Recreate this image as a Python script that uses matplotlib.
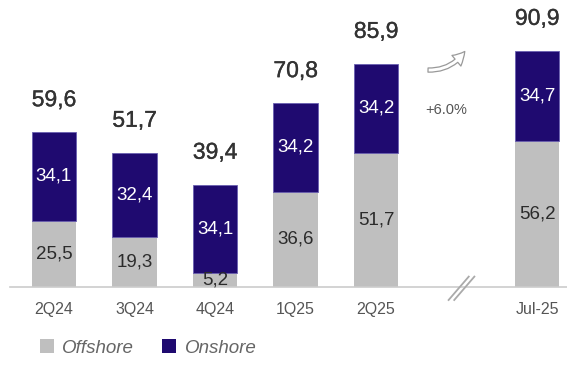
import matplotlib
matplotlib.use("Agg")
import matplotlib.pyplot as plt
import matplotlib.patheffects as pe
from matplotlib.patches import FancyArrowPatch, Patch

# values
periods = ["2Q24", "3Q24", "4Q24", "1Q25", "2Q25", "Jul-25"]
positions = [0, 1, 2, 3, 4, 6]
offshore = [25.5, 19.3, 5.2, 36.6, 51.7, 56.2]
onshore = [34.1, 32.4, 34.1, 34.2, 34.2, 34.7]
totals = [59.6, 51.7, 39.4, 70.8, 85.9, 90.9]
growth_label = "+6.0%"

OFF_COLOR = "#bfbfbf"
ON_COLOR = "#1f0a70"
TEXT_DARK = "#2b2b2b"
TEXT_GREY = "#555555"

plt.rcParams["font.family"] = ["Liberation Sans", "DejaVu Sans"]


def fmt(v):
    return f"{v:.1f}".replace(".", ",")


fig = plt.figure(figsize=(5.67, 3.70), dpi=100, facecolor="white")
ax = fig.add_axes([0, 0.2243, 1, 0.7757])
ax.set_xlim(-0.67, 6.37)
ax.set_ylim(0, 110.4)
for side in ax.spines.values():
    side.set_visible(False)
ax.set_yticks([])

bar_w = 0.55
ax.bar(positions, offshore, width=bar_w, color=OFF_COLOR, zorder=2)
ax.bar(positions, onshore, width=bar_w, bottom=offshore, color=ON_COLOR,
       edgecolor="#6a5fb0", linewidth=0.6, zorder=2)

ax.plot([-0.55, 6.37], [0, 0], color="#cccccc", lw=1.2, zorder=3, clip_on=False)

for x, off, on, tot in zip(positions, offshore, onshore, totals):
    ax.text(x, off / 2, fmt(off), ha="center", va="center",
            fontsize=13.5, color=TEXT_DARK, zorder=4)
    ax.text(x, off + on / 2, fmt(on), ha="center", va="center",
            fontsize=13.5, color="white", zorder=4)
    ax.annotate(fmt(tot), (x, tot), xytext=(0, 15), textcoords="offset points",
                ha="center", va="bottom", fontsize=16.5, color="#333333",
                path_effects=[pe.withStroke(linewidth=0.25, foreground="#333333")])

ax.set_xticks(positions)
ax.set_xticklabels(periods, fontsize=11.5, color=TEXT_GREY)
ax.tick_params(axis="x", length=0, pad=11)

# axis break marks
for dx in (0.0, 0.07):
    ax.plot([4.9 + dx, 5.15 + dx], [-5, 4], color="#aaaaaa", lw=1.3,
            clip_on=False, zorder=4)

# growth arrow and label
ax.add_patch(FancyArrowPatch((4.61, 83.5), (5.12, 91.5), connectionstyle="arc3,rad=0.3",
                             arrowstyle="simple,head_width=10,head_length=9,tail_width=3",
                             facecolor="white", edgecolor="#999999", lw=0.9,
                             clip_on=False, zorder=4))
ax.text(4.87, 68, growth_label, ha="center", va="center",
        fontsize=10.5, color=TEXT_GREY)

handles = [Patch(facecolor=OFF_COLOR, label="Offshore"),
           Patch(facecolor=ON_COLOR, label="Onshore")]
fig.legend(handles=handles, loc="lower left", bbox_to_anchor=(0.04, -0.01),
           ncol=2, frameon=False, handlelength=0.75, handleheight=0.75,
           handletextpad=0.45, columnspacing=1.5,
           prop={"style": "italic", "size": 13.5}, labelcolor="#666666")

fig.savefig("out.png", dpi=100, facecolor="white")
